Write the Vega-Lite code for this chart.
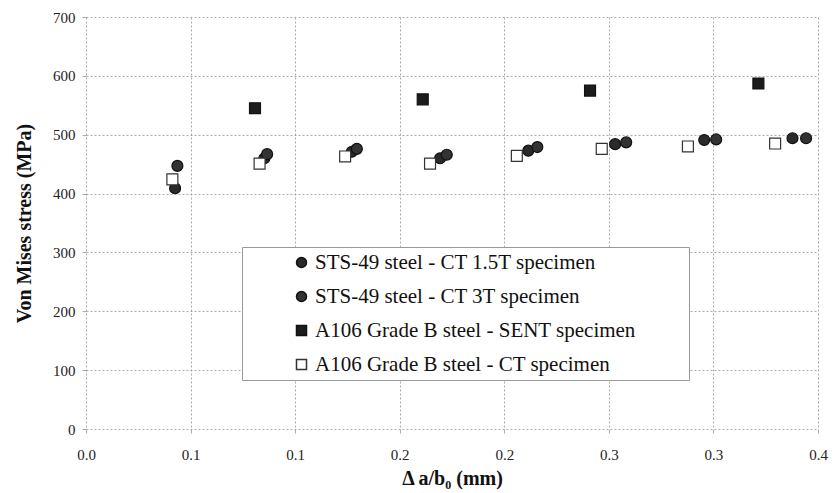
{
  "$schema": "https://vega.github.io/schema/vega-lite/v6.json",
  "width": 732,
  "height": 412,
  "autosize": {"type": "none"},
  "padding": {"left": 86, "top": 17, "right": 15, "bottom": 64},
  "background": "white",
  "config": {
    "view": {"stroke": null},
    "font": "Liberation Serif"
  },
  "data": {
    "values": [
      {"x": 0.0426, "y": 409, "series": "STS-49 steel - CT 1.5T specimen"},
      {"x": 0.0853, "y": 460, "series": "STS-49 steel - CT 1.5T specimen"},
      {"x": 0.1271, "y": 471, "series": "STS-49 steel - CT 1.5T specimen"},
      {"x": 0.1693, "y": 460, "series": "STS-49 steel - CT 1.5T specimen"},
      {"x": 0.2115, "y": 473, "series": "STS-49 steel - CT 1.5T specimen"},
      {"x": 0.2530, "y": 484, "series": "STS-49 steel - CT 1.5T specimen"},
      {"x": 0.2956, "y": 491, "series": "STS-49 steel - CT 1.5T specimen"},
      {"x": 0.3378, "y": 494, "series": "STS-49 steel - CT 1.5T specimen"},
      {"x": 0.0437, "y": 447, "series": "STS-49 steel - CT 3T specimen"},
      {"x": 0.0866, "y": 467, "series": "STS-49 steel - CT 3T specimen"},
      {"x": 0.1295, "y": 476, "series": "STS-49 steel - CT 3T specimen"},
      {"x": 0.1725, "y": 466, "series": "STS-49 steel - CT 3T specimen"},
      {"x": 0.2158, "y": 479, "series": "STS-49 steel - CT 3T specimen"},
      {"x": 0.2583, "y": 487, "series": "STS-49 steel - CT 3T specimen"},
      {"x": 0.3013, "y": 492, "series": "STS-49 steel - CT 3T specimen"},
      {"x": 0.3443, "y": 494, "series": "STS-49 steel - CT 3T specimen"},
      {"x": 0.0808, "y": 545, "series": "A106 Grade B steel - SENT specimen"},
      {"x": 0.1610, "y": 560, "series": "A106 Grade B steel - SENT specimen"},
      {"x": 0.2410, "y": 575, "series": "A106 Grade B steel - SENT specimen"},
      {"x": 0.3215, "y": 587, "series": "A106 Grade B steel - SENT specimen"},
      {"x": 0.0413, "y": 424, "series": "A106 Grade B steel - CT specimen"},
      {"x": 0.0830, "y": 451, "series": "A106 Grade B steel - CT specimen"},
      {"x": 0.1239, "y": 463, "series": "A106 Grade B steel - CT specimen"},
      {"x": 0.1645, "y": 451, "series": "A106 Grade B steel - CT specimen"},
      {"x": 0.2060, "y": 464, "series": "A106 Grade B steel - CT specimen"},
      {"x": 0.2466, "y": 476, "series": "A106 Grade B steel - CT specimen"},
      {"x": 0.2878, "y": 480, "series": "A106 Grade B steel - CT specimen"},
      {"x": 0.3295, "y": 485, "series": "A106 Grade B steel - CT specimen"}
    ]
  },
  "mark": {"type": "point", "filled": true, "size": 120, "strokeWidth": 1.2, "opacity": 1},
  "encoding": {
    "x": {
      "field": "x",
      "type": "quantitative",
      "scale": {"domain": [0, 0.35], "nice": false},
      "axis": {
        "title": "Δ a/b₀ (mm)",
        "titleFont": "Liberation Serif",
        "titleFontSize": 20,
        "titleFontWeight": "bold",
        "titleColor": "#111",
        "titlePadding": 6,
        "values": [0, 0.05, 0.1, 0.15, 0.2, 0.25, 0.3, 0.35],
        "labelExpr": "['0.0','0.1','0.1','0.2','0.2','0.3','0.3','0.4'][round(datum.value*20)]",
        "labelFont": "Liberation Serif",
        "labelFontSize": 15,
        "labelColor": "#222",
        "labelPadding": 14,
        "labelFlush": false,
        "domain": false,
        "ticks": true,
        "tickSize": 4,
        "tickColor": "#888",
        "tickWidth": 0.7,
        "grid": true,
        "gridColor": "#888",
        "gridDash": [2, 2],
        "gridWidth": 0.7
      }
    },
    "y": {
      "field": "y",
      "type": "quantitative",
      "scale": {"domain": [0, 700], "nice": false},
      "axis": {
        "title": "Von Mises stress (MPa)",
        "titleFont": "Liberation Serif",
        "titleFontSize": 20,
        "titleFontWeight": "bold",
        "titleColor": "#111",
        "titlePadding": 18,
        "values": [0, 100, 200, 300, 400, 500, 600, 700],
        "labelFont": "Liberation Serif",
        "labelFontSize": 15,
        "labelColor": "#222",
        "labelPadding": 7,
        "labelFlush": false,
        "domain": false,
        "ticks": true,
        "tickSize": 4,
        "tickColor": "#888",
        "tickWidth": 0.7,
        "grid": true,
        "gridColor": "#888",
        "gridDash": [2, 2],
        "gridWidth": 0.7
      }
    },
    "shape": {
      "field": "series",
      "type": "nominal",
      "scale": {
        "domain": ["STS-49 steel - CT 1.5T specimen", "STS-49 steel - CT 3T specimen", "A106 Grade B steel - SENT specimen", "A106 Grade B steel - CT specimen"],
        "range": ["circle", "circle", "square", "square"]
      },
      "legend": {
        "title": "\u00a0",
        "titleOrient": "right",
        "titlePadding": 48,
        "titleFontSize": 21,
        "orient": "none",
        "legendX": 156,
        "legendY": 230,
        "padding": 5,
        "symbolOffset": 44,
        "symbolSize": 100,
        "labelOffset": 3,
        "labelFont": "Liberation Serif",
        "labelFontSize": 21,
        "labelColor": "#111",
        "labelLimit": 600,
        "rowPadding": 12,
        "fillColor": "white",
        "strokeColor": "#999"
      }
    },
    "fill": {
      "field": "series",
      "type": "nominal",
      "scale": {
        "domain": ["STS-49 steel - CT 1.5T specimen", "STS-49 steel - CT 3T specimen", "A106 Grade B steel - SENT specimen", "A106 Grade B steel - CT specimen"],
        "range": ["#2a2a2a", "#333333", "#1c1c1c", "#ffffff"]
      },
      "legend": null
    },
    "stroke": {
      "field": "series",
      "type": "nominal",
      "scale": {
        "domain": ["STS-49 steel - CT 1.5T specimen", "STS-49 steel - CT 3T specimen", "A106 Grade B steel - SENT specimen", "A106 Grade B steel - CT specimen"],
        "range": ["#111111", "#111111", "#111111", "#333333"]
      },
      "legend": null
    }
  }
}
